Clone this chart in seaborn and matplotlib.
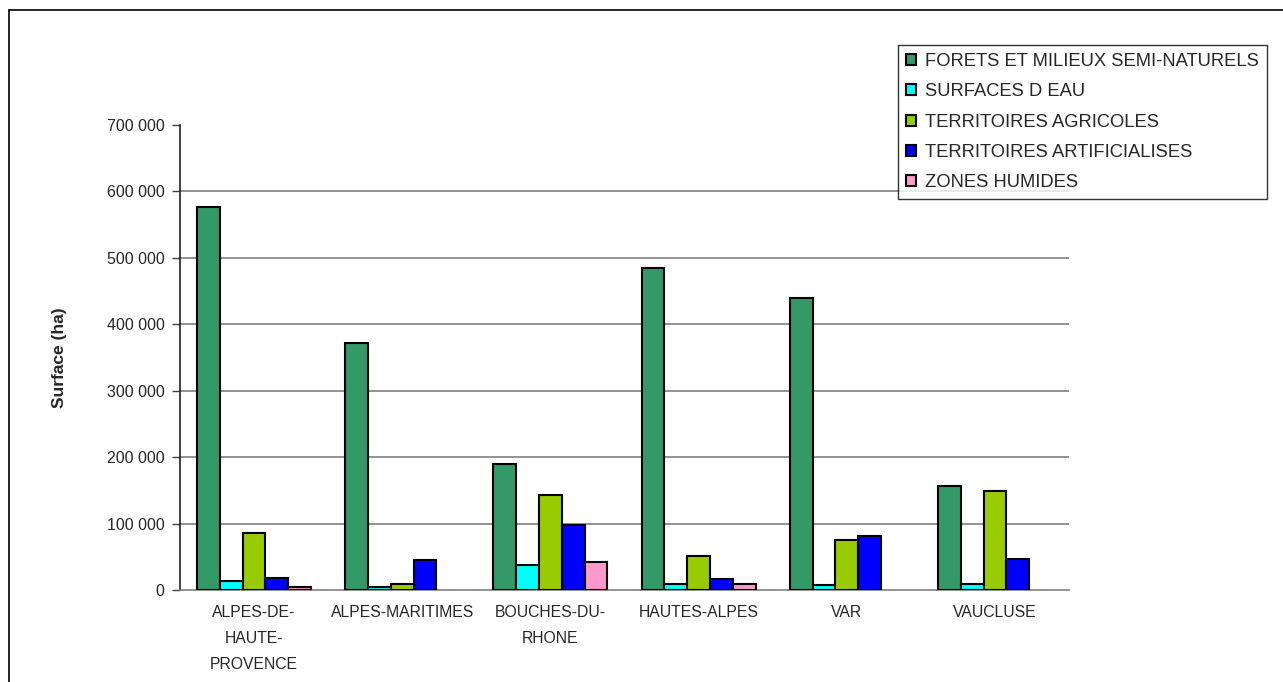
import matplotlib
matplotlib.use("Agg")
import matplotlib.pyplot as plt
from matplotlib.patches import Patch
from matplotlib.lines import Line2D
from matplotlib.ticker import FuncFormatter, FixedLocator
import numpy as np
import pandas as pd
import seaborn as sns

# Départements (x categories)
departements = [
    "ALPES-DE-\nHAUTE-\nPROVENCE",
    "ALPES-MARITIMES",
    "BOUCHES-DU-\nRHONE",
    "HAUTES-ALPES",
    "VAR",
    "VAUCLUSE",
]

# Land-cover classes (hue)
occupations = [
    "FORETS ET MILIEUX SEMI-NATURELS",
    "SURFACES D EAU",
    "TERRITOIRES AGRICOLES",
    "TERRITOIRES ARTIFICIALISES",
    "ZONES HUMIDES",
]

# Surfaces in hectares, one list per class (NaN = no area)
forets = [577000, 372000, 189500, 484500, 440000, 156500]
eau = [13500, 4000, 37500, 9000, 8000, 9000]
agricoles = [86000, 9000, 143000, 51500, 75500, 149500]
artificialises = [18500, 45500, 98000, 16500, 81500, 46000]
humides = [5000, np.nan, 42000, 9500, np.nan, np.nan]

couleurs = ["#339966", "#00FFFF", "#99CC00", "#0000FF", "#FF99CC"]

series = [forets, eau, agricoles, artificialises, humides]
rows = []
for occ, vals in zip(occupations, series):
    for dep, v in zip(departements, vals):
        rows.append({"Departement": dep, "Occupation": occ, "Surface": v})
df = pd.DataFrame(rows)

sns.set_style("white")
plt.rcParams["font.family"] = ["Liberation Sans", "DejaVu Sans"]

W, H = 1283, 682
fig = plt.figure(figsize=(W / 100, H / 100), dpi=100)
ax = fig.add_axes([180 / W, 1 - 590 / H, 889 / W, 465 / H])

sns.barplot(
    data=df, x="Departement", y="Surface", hue="Occupation",
    order=departements, hue_order=occupations, palette=couleurs,
    width=0.77, edgecolor="black", linewidth=1.5, saturation=1,
    errorbar=None, ax=ax, legend=False, zorder=3,
)

# Axis limits and y ticks
ax.set_xlim(-0.5, len(departements) - 0.5)
ax.set_ylim(0, 700000)
ax.yaxis.set_major_locator(FixedLocator(np.arange(0, 700001, 100000)))
ax.yaxis.set_major_formatter(FuncFormatter(lambda v, p: f"{int(v):,}".replace(",", " ")))

# Horizontal gridlines (none at the top value)
for yv in range(100000, 700000, 100000):
    ax.axhline(yv, color="#808080", lw=1.2, zorder=1)

# Category ticks at group boundaries
ax.set_xticks(np.arange(len(departements)))
ax.set_xticklabels(departements, linespacing=1.9)
ax.xaxis.set_minor_locator(FixedLocator(np.arange(-0.5, len(departements), 1.0)))
ax.tick_params(axis="x", which="major", length=0, pad=11, labelsize=11.3)
ax.tick_params(axis="x", which="minor", length=5, width=1, color="#404040", direction="out")
ax.tick_params(axis="y", length=6, width=1, color="#404040", direction="out", pad=5,
               labelsize=11.5, left=True)
for lab in ax.get_xticklabels():
    lab.set_verticalalignment("top")

ax.set_xlabel("")
ax.set_ylabel("Surface (ha)", fontsize=12.5, fontweight="bold")
ax.yaxis.set_label_coords(-0.127, 0.5)

for s in ["top", "right"]:
    ax.spines[s].set_visible(False)
ax.spines["left"].set_color("#202020")
ax.spines["left"].set_linewidth(1.2)
ax.spines["bottom"].set_color("#808080")
ax.spines["bottom"].set_linewidth(1.2)

# Legend
handles = [Patch(facecolor=c, edgecolor="black", linewidth=1.5) for c in couleurs]
leg = fig.legend(
    handles, occupations, loc="upper left",
    bbox_to_anchor=(898 / W, 1 - 45 / H), bbox_transform=fig.transFigure,
    fontsize=13.2, frameon=True, fancybox=False, shadow=False,
    handlelength=0.55, handleheight=0.55, handletextpad=0.45,
    labelspacing=0.72, borderpad=0.45, borderaxespad=0,
)
leg.get_frame().set_edgecolor("black")
leg.get_frame().set_linewidth(1.0)
leg.get_frame().set_facecolor("white")

# Outer chart frame
fig.add_artist(Line2D([9 / W, 1.0], [1 - 10 / H, 1 - 10 / H], color="black", lw=1.2,
                      transform=fig.transFigure))
fig.add_artist(Line2D([9 / W, 9 / W], [1 - 10 / H, 0.0], color="black", lw=1.2,
                      transform=fig.transFigure))

fig.savefig("out.png", dpi=100)
